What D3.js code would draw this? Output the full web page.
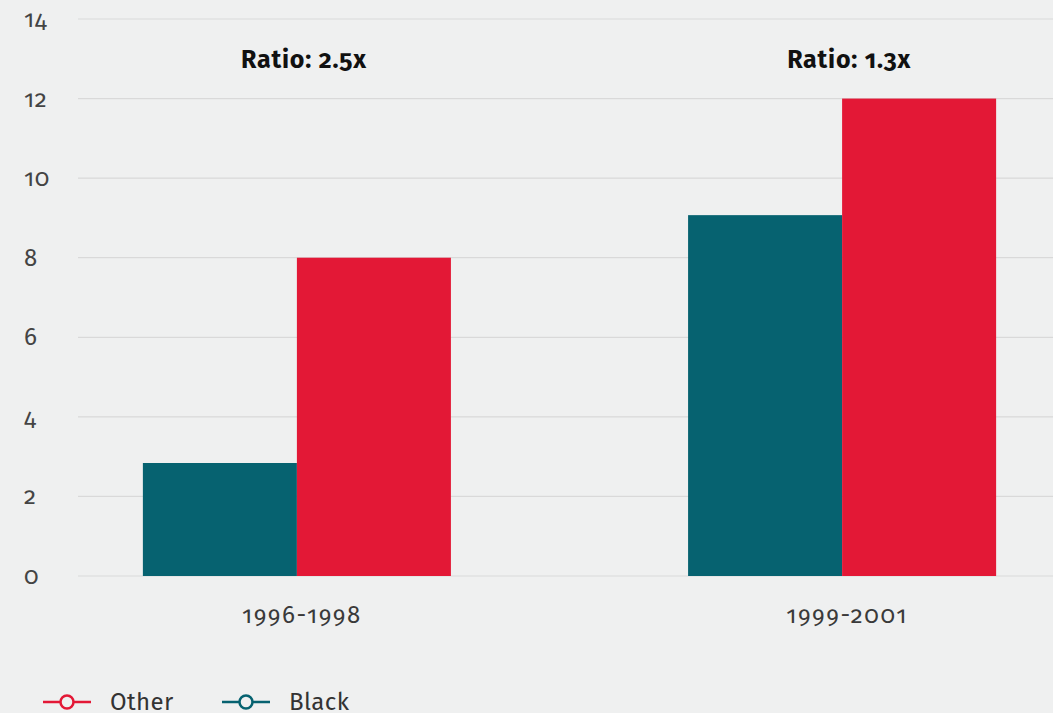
<!DOCTYPE html>
<html>
<head>
<meta charset="utf-8">
<script src="https://cdn.jsdelivr.net/npm/d3@7"></script>
<style>
  body { margin: 0; background: #eff0f0; }
  svg { display: block; font-family: "Fira Sans", "Open Sans", "Noto Sans", sans-serif; font-variant-numeric: oldstyle-nums; }
</style>
</head>
<body>
<script>
// chart data
const periods = ['1996-1998', '1999-2001']
const groups = ['Black', 'Other']
const black = [2.84, 9.07]
const other = [8, 12]
const ratios = ['Ratio: 2.5x', 'Ratio: 1.3x']
const yTicks = [0, 2, 4, 6, 8, 10, 12, 14]

const colors = { Black: '#066270', Other: '#e31836' }

const W = 1053, H = 713
const margin = { top: 19, right: -8, bottom: 137, left: 78 }

const svg = d3.select('body').append('svg')
    .attr('width', W)
    .attr('height', H)

svg.append('rect').attr('width', W).attr('height', H).attr('fill', '#eff0f0')

const y = d3.scaleLinear().domain([0, 14]).range([H - margin.bottom, margin.top])
const x = d3.scaleBand().domain(periods)
    .range([margin.left, W - margin.right])
    .paddingInner(0.435)
    .paddingOuter(0.119)
const xs = d3.scaleBand().domain(groups).range([0, x.bandwidth()])

// gridlines
svg.append('g').selectAll('line')
    .data(yTicks)
    .enter().append('line')
    .attr('x1', margin.left)
    .attr('x2', W)
    .attr('y1', d => y(d))
    .attr('y2', d => y(d))
    .attr('stroke', '#d9d9d9')
    .attr('stroke-width', 1.2)

// y tick labels
svg.append('g').selectAll('text')
    .data(yTicks)
    .enter().append('text')
    .attr('x', 24)
    .attr('y', d => y(d) + 8)
    .attr('fill', '#444')
    .style('font-size', '24px')
    .style('letter-spacing', '0.6px')
    .text(d => d)

// bars
const rows = periods.map((p, i) => ({ period: p, Black: black[i], Other: other[i] }))
const g = svg.append('g').selectAll('g')
    .data(rows)
    .enter().append('g')
    .attr('transform', d => `translate(${x(d.period)},0)`)

g.selectAll('rect')
    .data(d => groups.map(k => ({ key: k, value: d[k] })))
    .enter().append('rect')
    .attr('x', d => xs(d.key))
    .attr('width', xs.bandwidth())
    .attr('y', d => y(d.value))
    .attr('height', d => y(0) - y(d.value))
    .attr('fill', d => colors[d.key])

// x labels
svg.append('g').selectAll('text')
    .data(periods)
    .enter().append('text')
    .attr('x', d => x(d) + x.bandwidth() / 2 + 5)
    .attr('y', 623)
    .attr('text-anchor', 'middle')
    .attr('fill', '#3a3a3a')
    .style('font-size', '24px')
    .style('letter-spacing', '1.6px')
    .text(d => d)

// ratio labels
svg.append('g').selectAll('text')
    .data(periods)
    .enter().append('text')
    .attr('x', d => x(d) + x.bandwidth() / 2 + 7)
    .attr('y', 68)
    .attr('text-anchor', 'middle')
    .attr('fill', '#111')
    .style('font-size', '25px')
    .style('font-weight', 'bold')
    .style('letter-spacing', '0.8px')
    .text((d, i) => ratios[i])

// legend
const legendItems = [{ key: 'Other', x: 43 }, { key: 'Black', x: 222 }]
const lg = svg.append('g').selectAll('g')
    .data(legendItems)
    .enter().append('g')
    .attr('transform', d => `translate(${d.x},702)`)
lg.append('line')
    .attr('x1', 0).attr('x2', 48)
    .attr('stroke', d => colors[d.key])
    .attr('stroke-width', 2.5)
lg.append('circle')
    .attr('cx', 24).attr('r', 6.5)
    .attr('fill', '#eff0f0')
    .attr('stroke', d => colors[d.key])
    .attr('stroke-width', 2.5)
lg.append('text')
    .attr('x', 67)
    .attr('y', 8)
    .attr('fill', '#333')
    .style('font-size', '24px')
    .style('letter-spacing', '0.4px')
    .text(d => d.key)
</script>
</body>
</html>
